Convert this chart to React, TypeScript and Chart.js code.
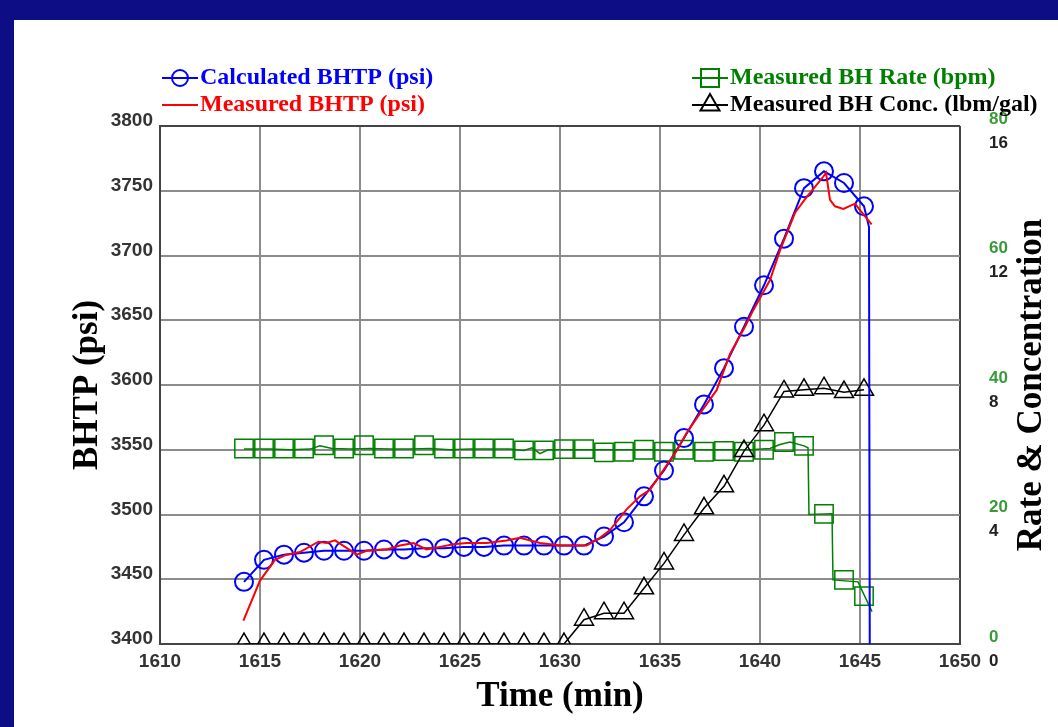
import React, { useEffect, useRef } from "react";
import { Chart, registerables } from "chart.js";

Chart.register(...registerables);

// ---------- data ----------
const timeMin = [
  1614.2, 1615.2, 1616.2, 1617.2, 1618.2, 1619.2, 1620.2, 1621.2, 1622.2, 1623.2,
  1624.2, 1625.2, 1626.2, 1627.2, 1628.2, 1629.2, 1630.2, 1631.2, 1632.2, 1633.2,
  1634.2, 1635.2, 1636.2, 1637.2, 1638.2, 1639.2, 1640.2, 1641.2, 1642.2, 1643.2,
  1644.2, 1645.2,
];
const calcBHTP = [
  3448, 3465, 3469, 3470.5, 3472, 3472, 3472, 3473, 3473, 3474,
  3474, 3475, 3475, 3476, 3476, 3476, 3476, 3476, 3483, 3494,
  3514, 3534, 3559, 3585, 3613, 3645, 3677, 3713, 3752, 3765,
  3756, 3738,
];
const calcDropTime = [1645.45, 1645.5];
const calcDropBHTP = [3722, 3300];

const measTime = [
  1614.17, 1615.0, 1615.75, 1616.33, 1617.0, 1617.92, 1618.33, 1618.75, 1619.25, 1619.83,
  1620.33, 1621.33, 1622.0, 1622.67, 1623.33, 1624.0, 1624.67, 1625.33, 1626.33, 1627.33,
  1628.0, 1629.0, 1630.0, 1631.33, 1632.0, 1632.5, 1633.33, 1634.0, 1634.5, 1635.33,
  1635.83, 1636.33, 1637.0, 1637.83, 1638.5, 1639.25, 1639.67, 1640.5, 1641.0, 1641.75,
  1642.33, 1643.17, 1643.3, 1643.5, 1643.75, 1644.17, 1644.75, 1645.0, 1645.58,
];
const measBHTP = [
  3418, 3449, 3465, 3469, 3471, 3479, 3478, 3480, 3475, 3469,
  3472, 3473, 3476, 3478, 3473, 3475, 3477, 3478, 3478, 3480,
  3482, 3478, 3476, 3476, 3482, 3488, 3504, 3514, 3519, 3538,
  3549, 3563, 3578, 3596, 3624, 3645, 3658, 3681, 3704, 3733,
  3745, 3761, 3764, 3743, 3738, 3736, 3740, 3735, 3724,
];

const rateLineTime = [
  1614.2, 1615.5, 1616.5, 1617.5, 1618.0, 1618.6, 1619.5, 1620.5, 1621.5, 1622.5,
  1623.5, 1624.5, 1625.5, 1626.5, 1627.5, 1628.2, 1628.6, 1629.0, 1629.4, 1630.5,
  1631.5, 1632.5, 1633.5, 1634.5, 1635.5, 1636.5, 1637.5, 1638.5, 1639.5, 1640.5,
  1641.0, 1641.5, 1642.2, 1642.4, 1642.45, 1643.6, 1643.65, 1644.9, 1645.6,
];
const rateLineBpm = [
  30.1, 30.1, 30.0, 30.1, 30.6, 30.2, 30.1, 30.2, 30.1, 30.1,
  30.2, 30.0, 30.1, 30.1, 30.1, 29.9, 30.3, 29.4, 30.0, 30.0,
  30.0, 30.0, 30.0, 30.0, 29.9, 30.0, 30.0, 30.0, 30.0, 30.2,
  30.8, 31.2, 30.6, 30.3, 20.0, 20.1, 9.9, 9.6, 5.0,
];
const rateMarkBpm = [
  30.2, 30.2, 30.2, 30.2, 30.7, 30.2, 30.7, 30.2, 30.2, 30.7,
  30.2, 30.2, 30.2, 30.2, 29.9, 29.9, 30.1, 30.1, 29.6, 29.7,
  30.0, 29.7, 30.0, 29.7, 29.8, 29.7, 30.0, 31.2, 30.6, 20.1,
  9.9, 7.4,
];
const concPpg = [
  0, 0, 0, 0, 0, 0, 0, 0, 0, 0,
  0, 0, 0, 0, 0, 0, 0, 0.75, 0.95, 0.95,
  1.72, 2.49, 3.37, 4.19, 4.87, 5.96, 6.76, 7.8, 7.85, 7.9,
  7.78, 7.85,
];

const seriesLabels = [
  "Calculated BHTP (psi)",
  "Measured BHTP (psi)",
  "Measured BH Rate (bpm)",
  "Measured BH Conc. (lbm/gal)",
];
const xTitle = "Time (min)";
const yTitle = "BHTP (psi)";
const y2Title = "Rate & Concentration";

const BLUE = "#0000ff";
const RED = "#ff0000";
const GREEN = "#008000";
const BLACK = "#000000";
const GRID = "#8c8c8c";
const FRAME = "#444444";

const pts = (xs: number[], ys: number[]) => xs.map((x, i) => ({ x, y: ys[i] }));
const plain = (v: any) => String(v);

const tickFont = { family: "'Liberation Sans', Arial, sans-serif", size: 19, weight: "bold" as const };
const rightTickFont = { family: "'Liberation Sans', Arial, sans-serif", size: 17, weight: "bold" as const };
const titleFont = { family: "'Liberation Serif', 'Times New Roman', serif", size: 35, weight: "bold" as const };

const decorPlugin = {
  id: "decor",
  afterDraw(chart: any) {
    const ctx = chart.ctx as CanvasRenderingContext2D;
    ctx.save();
    // legend
    ctx.font = "bold 24px 'Liberation Serif', 'Times New Roman', serif";
    ctx.textBaseline = "middle";
    ctx.textAlign = "left";
    const items = [
      { x0: 148, y: 58, color: BLUE, text: seriesLabels[0], mark: "circle" },
      { x0: 148, y: 85, color: RED, text: seriesLabels[1], mark: "none" },
      { x0: 678, y: 58, color: GREEN, text: seriesLabels[2], mark: "rect" },
      { x0: 678, y: 85, color: BLACK, text: seriesLabels[3], mark: "triangle" },
    ];
    for (const it of items) {
      const cx = it.x0 + 18;
      ctx.strokeStyle = it.color;
      ctx.lineWidth = 2;
      ctx.beginPath();
      ctx.moveTo(it.x0, it.y);
      ctx.lineTo(it.x0 + 36, it.y);
      ctx.stroke();
      ctx.beginPath();
      if (it.mark === "circle") {
        ctx.arc(cx, it.y, 8, 0, Math.PI * 2);
      } else if (it.mark === "rect") {
        ctx.rect(cx - 9, it.y - 9, 18, 18);
      } else if (it.mark === "triangle") {
        ctx.moveTo(cx, it.y - 11);
        ctx.lineTo(cx + 9.5, it.y + 5.5);
        ctx.lineTo(cx - 9.5, it.y + 5.5);
        ctx.closePath();
      }
      if (it.mark !== "none") ctx.stroke();
      ctx.fillStyle = it.color;
      ctx.fillText(it.text, it.x0 + 38, it.y);
    }

    // concentration tick labels (black), from the hidden conc scale
    const area = chart.chartArea;
    const yc = chart.scales.yc;
    ctx.font = `bold ${rightTickFont.size}px ${rightTickFont.family}`;
    ctx.fillStyle = "#222";
    ctx.textAlign = "left";
    ctx.textBaseline = "middle";
    for (const t of yc.ticks) {
      ctx.fillText(String(t.value), area.right + 29, yc.getPixelForValue(t.value) + 17);
    }

    // right axis title (reads bottom to top)
    ctx.translate(1018, (area.top + area.bottom) / 2);
    ctx.rotate(-Math.PI / 2);
    ctx.font = "bold 35px 'Liberation Serif', 'Times New Roman', serif";
    ctx.textAlign = "center";
    ctx.fillStyle = "#000";
    ctx.fillText(y2Title, 0, 0);
    ctx.restore();
  },
};

export default function App() {
  const ref = useRef<HTMLCanvasElement | null>(null);

  useEffect(() => {
    if (!ref.current) return;
    const chart = new Chart(ref.current, {
      type: "line",
      data: {
        datasets: [
          {
            label: seriesLabels[1],
            data: pts(measTime, measBHTP),
            borderColor: RED,
            borderWidth: 2,
            pointRadius: 0,
            yAxisID: "y",
          },
          {
            label: seriesLabels[0],
            data: pts(timeMin, calcBHTP).concat(pts(calcDropTime, calcDropBHTP)),
            borderColor: BLUE,
            borderWidth: 2,
            pointStyle: "circle",
            pointRadius: (c: any) => (c.dataIndex < timeMin.length ? 9 : 0),
            pointBorderColor: BLUE,
            pointBackgroundColor: "rgba(0,0,0,0)",
            pointBorderWidth: 2,
            yAxisID: "y",
          },
          {
            label: seriesLabels[3],
            data: pts(timeMin, concPpg),
            borderColor: BLACK,
            borderWidth: 1.5,
            pointStyle: "triangle",
            pointRadius: 11,
            pointBorderColor: BLACK,
            pointBackgroundColor: "rgba(0,0,0,0)",
            pointBorderWidth: 1.5,
            yAxisID: "yc",
          },
          {
            label: seriesLabels[2] + " line",
            data: pts(rateLineTime, rateLineBpm),
            borderColor: GREEN,
            borderWidth: 1.5,
            pointRadius: 0,
            yAxisID: "yr",
          },
          {
            label: seriesLabels[2],
            data: pts(timeMin, rateMarkBpm),
            showLine: false,
            pointStyle: "rect",
            pointRadius: 13,
            pointBorderColor: GREEN,
            pointBackgroundColor: "rgba(0,0,0,0)",
            pointBorderWidth: 1.5,
            yAxisID: "yr",
          },
        ],
      },
      options: {
        animation: false,
        responsive: false,
        devicePixelRatio: 1,
        layout: { padding: { top: 106, left: 0, right: 0, bottom: 0 } },
        plugins: { legend: { display: false }, tooltip: { enabled: false } },
        elements: { line: { tension: 0 } },
        scales: {
          x: {
            type: "linear",
            min: 1610,
            max: 1650,
            ticks: { stepSize: 5, font: tickFont, color: "#333", padding: 6, callback: plain },
            grid: {
              drawTicks: false,
              lineWidth: 2,
              color: (c: any) => (c.tick && c.tick.value === 1650 ? FRAME : GRID),
            },
            border: { color: FRAME, width: 2 },
            title: {
              display: true,
              text: xTitle,
              font: titleFont,
              color: "#000",
              padding: { top: 0, bottom: 9 },
            },
            afterFit: (s: any) => {
              s.height = 83;
            },
          },
          y: {
            position: "left",
            min: 3400,
            max: 3800,
            ticks: { stepSize: 50, font: tickFont, color: "#333", padding: 7, labelOffset: -5, callback: plain },
            grid: {
              drawTicks: false,
              lineWidth: 2,
              color: (c: any) => (c.tick && c.tick.value === 3800 ? FRAME : GRID),
            },
            border: { color: FRAME, width: 2 },
            title: {
              display: true,
              text: yTitle,
              font: titleFont,
              color: "#000",
              padding: { top: 53, bottom: 0 },
            },
            afterFit: (s: any) => {
              s.width = 146;
            },
          },
          yc: {
            display: false,
            position: "right",
            min: 0,
            max: 16,
            ticks: { stepSize: 4 },
          },
          yr: {
            position: "right",
            min: 0,
            max: 80,
            ticks: { stepSize: 20, font: rightTickFont, color: "#3a9a3a", padding: 29, labelOffset: -7, callback: plain },
            grid: { display: false, drawTicks: false },
            border: { display: false },
            afterFit: (s: any) => {
              s.width = 98;
            },
          },
        },
      } as any,
      plugins: [decorPlugin],
    });
    return () => chart.destroy();
  }, []);

  return (
    <div
      style={{
        position: "fixed",
        left: 0,
        top: 0,
        width: 1058,
        height: 727,
        background: "#0d0d85",
        overflow: "hidden",
      }}
    >
      <div
        style={{
          position: "absolute",
          left: 14,
          top: 20,
          width: 1044,
          height: 707,
          background: "#ffffff",
        }}
      >
        <canvas ref={ref} width={1044} height={707} style={{ display: "block" }} />
      </div>
    </div>
  );
}
